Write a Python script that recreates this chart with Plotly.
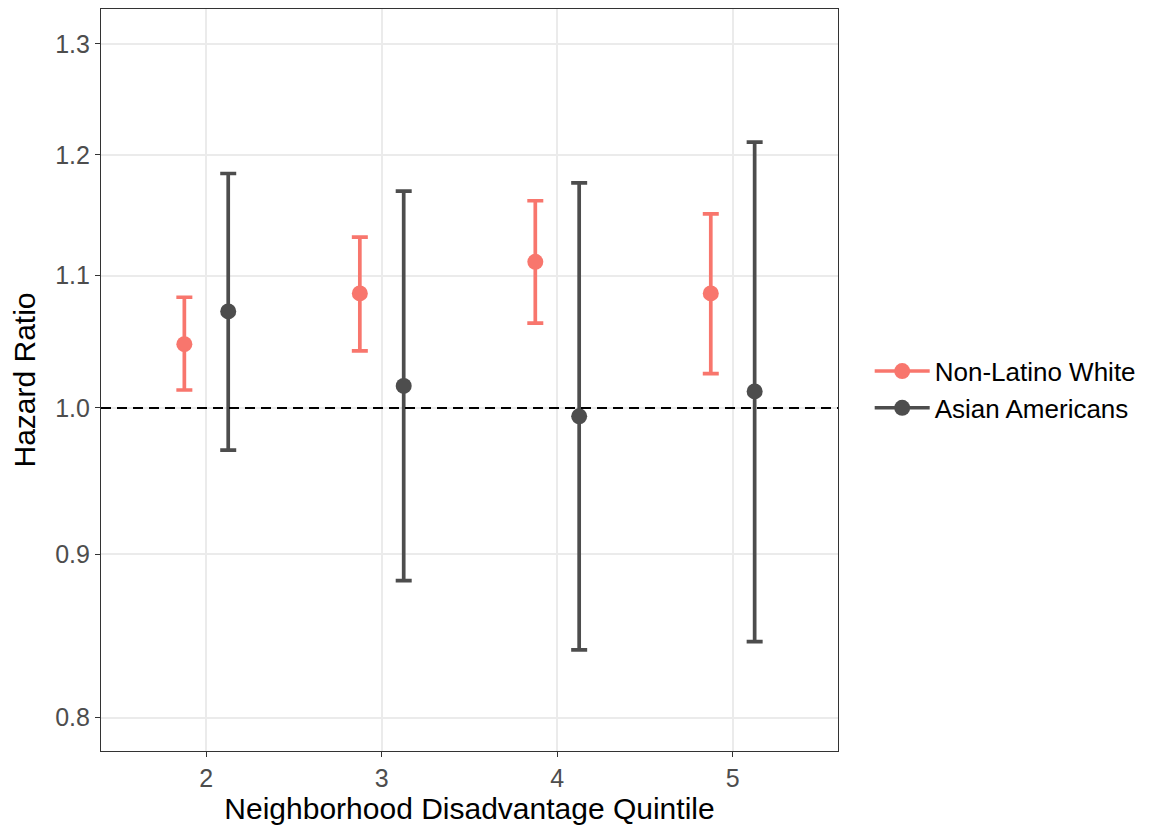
import plotly.graph_objects as go
import numpy as np

quintiles = [2, 3, 4, 5]
series_names = ["Non-Latino White", "Asian Americans"]
colors = ["#F8766D", "#4D4D4D"]
dodge = [-0.125, 0.125]

white_hr = [1.047, 1.086, 1.111, 1.086]
white_lo = [1.013, 1.042, 1.063, 1.025]
white_hi = [1.083, 1.131, 1.161, 1.150]

asian_hr = [1.072, 1.016, 0.994, 1.012]
asian_lo = [0.970, 0.883, 0.840, 0.845]
asian_hi = [1.184, 1.169, 1.176, 1.211]

yticks = [0.8, 0.9, 1.0, 1.1, 1.2, 1.3]

data = [(white_hr, white_lo, white_hi), (asian_hr, asian_lo, asian_hi)]

fig = go.Figure()
for name, col, dx, (hr, lo, hi) in zip(series_names, colors, dodge, data):
    x = [q + dx for q in quintiles]
    fig.add_trace(go.Scatter(
        x=x, y=hr, mode="markers", name=name, showlegend=False,
        marker=dict(color=col, size=16, line=dict(width=0)),
        error_y=dict(type="data", symmetric=False,
                     array=[h - m for h, m in zip(hi, hr)],
                     arrayminus=[m - l for m, l in zip(hr, lo)],
                     color=col, thickness=3.7, width=8),
    ))
    fig.add_trace(go.Scatter(
        x=[None], y=[None], mode="lines+markers", name=name,
        marker=dict(color=col, size=16),
        line=dict(color=col, width=3.5),
    ))

fig.add_hline(y=1.0, line=dict(color="black", width=2, dash="10px,6px"), layer="above")

font_family = "Liberation Sans, Arial, sans-serif"
fig.update_layout(
    width=1161, height=823,
    margin=dict(l=93, r=331, t=1, b=80),
    paper_bgcolor="white", plot_bgcolor="white",
    font=dict(family=font_family, color="black"),
    legend=dict(x=1.043, xanchor="left", y=0.487, yanchor="middle",
                font=dict(size=26, family=font_family, color="black"),
                itemwidth=55, tracegroupgap=0, bgcolor="rgba(0,0,0,0)"),
    xaxis=dict(range=[1.4, 5.6], tickvals=quintiles, ticktext=[str(q) for q in quintiles],
               showgrid=True, gridcolor="#EBEBEB", gridwidth=1.5, zeroline=False,
               showline=True, mirror=True, linecolor="#333333", linewidth=1.2,
               ticks="outside", ticklen=5, tickcolor="#333333", tickwidth=1.2,
               tickfont=dict(size=25, color="#4D4D4D", family=font_family),
               title=dict(text="Neighborhood Disadvantage Quintile",
                          font=dict(size=30, color="black", family=font_family), standoff=4)),
    yaxis=dict(type="log", range=[np.log10(0.781), np.log10(1.333)],
               tickvals=yticks, ticktext=[f"{v:.1f}" for v in yticks],
               showgrid=True, gridcolor="#EBEBEB", gridwidth=1.5, zeroline=False,
               showline=True, mirror=True, linecolor="#333333", linewidth=1.2,
               ticks="outside", ticklen=5, tickcolor="#333333", tickwidth=1.2,
               tickfont=dict(size=25, color="#4D4D4D", family=font_family),
               title=dict(text="Hazard Ratio",
                          font=dict(size=30, color="black", family=font_family), standoff=10)),
)

fig.write_html("out.html")
